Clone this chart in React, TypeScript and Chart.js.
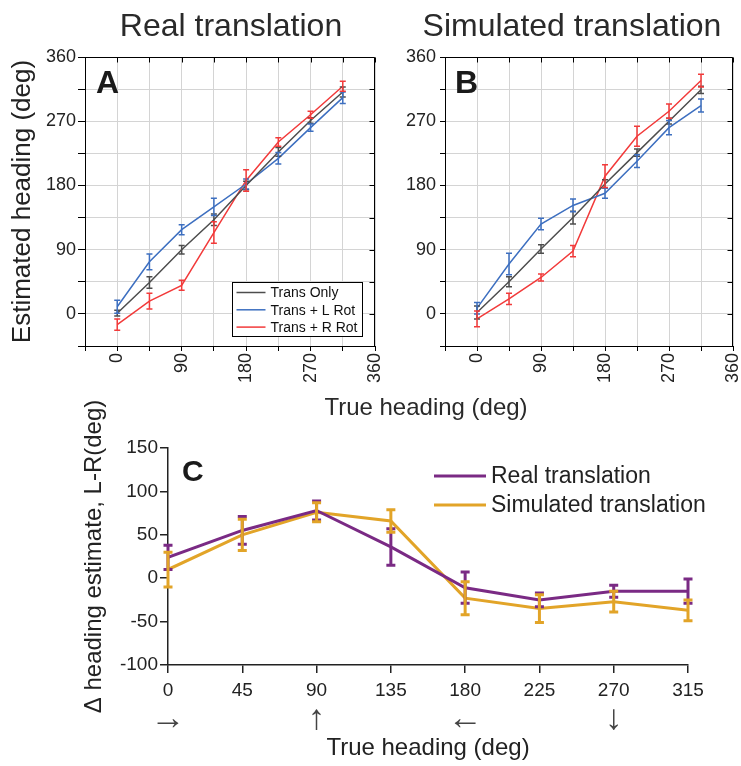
import React, { useEffect, useRef } from 'react';
import { Chart, registerables } from 'chart.js';

Chart.register(...registerables);

const FONT = "'Liberation Sans', Arial, Helvetica, sans-serif";
Chart.defaults.font.family = FONT;
Chart.defaults.color = '#222';

// ---------- data ----------
const headings = [0, 45, 90, 135, 180, 225, 270, 315];

// Panel A: Real translation
const aTransOnly = [1, 44, 90, 132, 180, 227, 271, 311];
const aTransOnlyErr = [4, 8, 6, 8, 6, 6, 4, 7];
const aTransL = [10, 73, 118, 150, 182, 218, 261, 303];
const aTransLErr = [9, 11, 7, 12, 7, 8, 5, 8];
const aTransR = [-15, 18, 40, 114, 187, 241, 279, 319];
const aTransRErr = [8, 11, 7, 15, 15, 6, 5, 7];

// Panel B: Simulated translation
const bTransOnly = [2, 45, 91, 135, 182, 226, 270, 314];
const bTransOnlyErr = [9, 7, 6, 9, 6, 5, 4, 5];
const bTransL = [8, 70, 126, 152, 169, 214, 261, 292];
const bTransLErr = [8, 15, 8, 9, 7, 9, 10, 9];
const bTransR = [-7, 21, 51, 88, 193, 249, 284, 327];
const bTransRErr = [11, 8, 5, 8, 16, 14, 10, 9];

const seriesNamesAB = ['Trans Only', 'Trans + L Rot', 'Trans + R Rot'];
const seriesColorsAB = ['#4d4d4d', '#3d6fc0', '#f23a3a'];
const abTickLabels = ['0', '90', '180', '270', '360'];

// Panel C: L-R difference
const cReal = [24, 55, 78, 36, -11, -25, -15, -15];
const cRealErr = [14, 16, 11, 21, 18, 8, 7, 14];
const cSim = [10, 50, 76, 66, -23, -35, -27, -37];
const cSimErr = [20, 18, 11, 13, 19, 16, 12, 12];
const cSeriesNames = ['Real translation', 'Simulated translation'];
const cColors = ['#7a2a84', '#e2a428'];
const cTickLabels = ['0', '45', '90', '135', '180', '225', '270', '315'];
const cArrows = ['→', '', '↑', '', '←', '', '↓', ''];

// ---------- helpers ----------
const toPoints = (ys: number[]) => headings.map((h, i) => ({ x: h, y: ys[i] }));

const errorBarPlugin = (capHalf: number, width: number) => ({
  id: 'errorBars',
  afterDatasetsDraw(chart: any) {
    const { ctx } = chart;
    const xs = chart.scales.x;
    const ys = chart.scales.y;
    chart.data.datasets.forEach((ds: any) => {
      if (!ds.errors) return;
      ctx.save();
      ctx.strokeStyle = ds.borderColor;
      ctx.lineWidth = width;
      ds.data.forEach((p: any, j: number) => {
        const e = ds.errors[j];
        const px = xs.getPixelForValue(p.x);
        const y1 = ys.getPixelForValue(p.y - e);
        const y2 = ys.getPixelForValue(p.y + e);
        ctx.beginPath();
        ctx.moveTo(px, y1);
        ctx.lineTo(px, y2);
        ctx.moveTo(px - capHalf, y1);
        ctx.lineTo(px + capHalf, y1);
        ctx.moveTo(px - capHalf, y2);
        ctx.lineTo(px + capHalf, y2);
        ctx.stroke();
      });
      ctx.restore();
    });
  },
});

const framePlugin = {
  id: 'frame',
  afterDatasetsDraw(chart: any) {
    const { ctx, chartArea: a, scales } = chart;
    const r = Math.round(a.right) - 0.5;
    const t = Math.round(a.top) + 0.5;
    ctx.save();
    ctx.strokeStyle = '#000';
    ctx.lineWidth = 1;
    ctx.beginPath();
    ctx.moveTo(a.left, t);
    ctx.lineTo(r, t);
    ctx.lineTo(r, a.bottom);
    scales.x.ticks.forEach((tk: any) => {
      const px = Math.round(scales.x.getPixelForValue(tk.value)) + 0.5;
      ctx.moveTo(px, t);
      ctx.lineTo(px, t + 5);
    });
    scales.y.ticks.forEach((tk: any) => {
      const py = Math.round(scales.y.getPixelForValue(tk.value)) + 0.5;
      ctx.moveTo(r, py);
      ctx.lineTo(r - 5, py);
    });
    ctx.stroke();
    ctx.restore();
  },
};

const letterPlugin = (letter: string, size: number, dx: number, dy: number) => ({
  id: 'panelLetter',
  afterDraw(chart: any) {
    const { ctx, chartArea: a } = chart;
    ctx.save();
    ctx.font = `bold ${size}px ${FONT}`;
    ctx.fillStyle = '#1a1a1a';
    ctx.textAlign = 'left';
    ctx.textBaseline = 'alphabetic';
    ctx.fillText(letter, a.left + dx, a.top + dy);
    ctx.restore();
  },
});

const boxLegendPlugin = {
  id: 'boxLegend',
  afterDraw(chart: any) {
    const { ctx, chartArea: a } = chart;
    const bx = Math.round(a.right - 143) + 0.5;
    const by = Math.round(a.bottom - 64) + 0.5;
    const bw = 130;
    const bh = 54;
    ctx.save();
    ctx.fillStyle = '#fff';
    ctx.fillRect(bx, by, bw, bh);
    ctx.strokeStyle = '#000';
    ctx.lineWidth = 1;
    ctx.strokeRect(bx, by, bw, bh);
    ctx.font = `14px ${FONT}`;
    ctx.textBaseline = 'middle';
    ctx.textAlign = 'left';
    chart.data.datasets.forEach((ds: any, i: number) => {
      const y = by + 10 + i * 17.3;
      ctx.strokeStyle = ds.borderColor;
      ctx.lineWidth = 1.5;
      ctx.beginPath();
      ctx.moveTo(bx + 4, y);
      ctx.lineTo(bx + 33, y);
      ctx.stroke();
      ctx.fillStyle = '#111';
      ctx.fillText(ds.label, bx + 38, y + 1);
    });
    ctx.restore();
  },
};

const lineLegendPlugin = {
  id: 'lineLegend',
  afterDraw(chart: any) {
    const { ctx, chartArea: a } = chart;
    ctx.save();
    ctx.font = `23px ${FONT}`;
    ctx.textBaseline = 'middle';
    ctx.textAlign = 'left';
    chart.data.datasets.forEach((ds: any, i: number) => {
      const y = a.top + 28 + i * 29;
      ctx.strokeStyle = ds.borderColor;
      ctx.lineWidth = 3;
      ctx.beginPath();
      ctx.moveTo(a.right - 254, y);
      ctx.lineTo(a.right - 202, y);
      ctx.stroke();
      ctx.fillStyle = '#222';
      ctx.fillText(ds.label, a.right - 197, y + 1);
    });
    ctx.restore();
  },
};

function makeAB(isA: boolean, series: number[][], errs: number[][]) {
  const tickCb = (v: any) => (abTickLabels.includes(String(v)) ? String(v) : '');
  return {
    type: 'line',
    data: {
      datasets: series.map((s, i) => ({
        label: seriesNamesAB[i],
        data: toPoints(s),
        errors: errs[i],
        borderColor: seriesColorsAB[i],
        backgroundColor: seriesColorsAB[i],
        borderWidth: 1.5,
        pointRadius: 0,
        tension: 0,
        fill: false,
      })),
    },
    options: {
      responsive: false,
      animation: false,
      devicePixelRatio: 1,
      layout: { padding: { top: 57, right: isA ? 10 : 8, left: 0, bottom: 0 } },
      plugins: { legend: { display: false }, tooltip: { enabled: false } },
      scales: {
        x: {
          type: 'linear',
          min: -45,
          max: 360,
          ticks: {
            stepSize: 45,
            autoSkip: false,
            minRotation: 90,
            maxRotation: 90,
            padding: 2,
            font: { size: 18 },
            color: '#222',
            callback: tickCb,
          },
          grid: { color: '#d4d4d4', tickColor: '#000', tickLength: 5, lineWidth: 1 },
          border: { color: '#000', width: 1 },
          afterFit: (s: any) => {
            s.height = 54;
            s.paddingLeft = 0;
            s.paddingRight = 0;
          },
        },
        y: {
          type: 'linear',
          min: -45,
          max: 360,
          ticks: {
            stepSize: 45,
            autoSkip: false,
            padding: isA ? 2 : 4,
            font: { size: 18 },
            color: '#222',
            callback: tickCb,
          },
          grid: { color: '#d4d4d4', tickColor: '#000', tickLength: isA ? 7 : 5, lineWidth: 1 },
          border: { color: '#000', width: 1 },
          title: isA
            ? {
                display: true,
                text: 'Estimated heading (deg)',
                font: { size: 26 },
                color: '#222',
                padding: { top: 7, bottom: 0 },
              }
            : { display: false },
          afterFit: (s: any) => {
            s.width = isA ? 85 : 60;
            s.paddingTop = 0;
            s.paddingBottom = 0;
          },
        },
      },
    },
    plugins: [
      errorBarPlugin(3, 1.5),
      framePlugin,
      letterPlugin(isA ? 'A' : 'B', 32, isA ? 11 : 10, 36),
      ...(isA ? [boxLegendPlugin] : []),
    ],
  };
}

function makeC() {
  const data = [cReal, cSim];
  const errs = [cRealErr, cSimErr];
  return {
    type: 'line',
    data: {
      datasets: data.map((s, i) => ({
        label: cSeriesNames[i],
        data: toPoints(s),
        errors: errs[i],
        borderColor: cColors[i],
        backgroundColor: cColors[i],
        borderWidth: 3,
        pointRadius: 0,
        tension: 0,
        fill: false,
      })),
    },
    options: {
      responsive: false,
      animation: false,
      devicePixelRatio: 1,
      layout: { padding: { top: 48, right: 53, left: 0, bottom: 0 } },
      plugins: { legend: { display: false }, tooltip: { enabled: false } },
      scales: {
        x: {
          type: 'linear',
          position: 'bottom',
          weight: 0,
          min: 0,
          max: 315,
          ticks: {
            stepSize: 45,
            autoSkip: false,
            minRotation: 0,
            maxRotation: 0,
            padding: 6,
            font: { size: 19 },
            color: '#222',
            callback: (v: any) => {
              const k = headings.indexOf(Number(v));
              return k >= 0 ? cTickLabels[k] : '';
            },
          },
          grid: { drawOnChartArea: false, tickColor: '#222', tickLength: 8, lineWidth: 1.5 },
          border: { color: '#222', width: 1.5 },
          afterFit: (s: any) => {
            s.height = 37;
            s.paddingLeft = 0;
            s.paddingRight = 0;
          },
        },
        xArrows: {
          type: 'linear',
          position: 'bottom',
          weight: 1,
          min: 0,
          max: 315,
          ticks: {
            stepSize: 45,
            autoSkip: false,
            minRotation: 0,
            maxRotation: 0,
            padding: 0,
            font: { size: 35, lineHeight: 1 },
            color: '#444',
            callback: (v: any) => {
              const k = headings.indexOf(Number(v));
              return k >= 0 ? cArrows[k] : '';
            },
          },
          grid: { display: false, drawTicks: false, drawOnChartArea: false },
          border: { display: false },
          title: {
            display: true,
            text: 'True heading (deg)',
            font: { size: 24 },
            color: '#222',
            padding: { top: 0, bottom: 3 },
          },
          afterFit: (s: any) => {
            s.height = 64;
            s.paddingLeft = 0;
            s.paddingRight = 0;
          },
        },
        y: {
          type: 'linear',
          min: -100,
          max: 150,
          ticks: { stepSize: 50, padding: 2, font: { size: 19 }, color: '#222' },
          grid: { drawOnChartArea: false, tickColor: '#222', tickLength: 8, lineWidth: 1.5 },
          border: { color: '#222', width: 1.5 },
          title: {
            display: true,
            text: 'Δ heading estimate, L-R(deg)',
            font: { size: 24 },
            color: '#222',
            padding: { top: 80, bottom: 0 },
          },
          afterFit: (s: any) => {
            s.width = 168;
            s.paddingTop = 0;
            s.paddingBottom = 0;
          },
        },
      },
    },
    plugins: [errorBarPlugin(4.5, 3), letterPlugin('C', 30, 14, 33), lineLegendPlugin],
  };
}

function ChartCanvas({ make, left, top, width, height }: any) {
  const ref = useRef<HTMLCanvasElement>(null);
  useEffect(() => {
    const chart = new Chart(ref.current as HTMLCanvasElement, make() as any);
    return () => chart.destroy();
  }, []);
  return (
    <canvas
      ref={ref}
      width={width}
      height={height}
      style={{ position: 'absolute', left, top, width, height }}
    />
  );
}

export default function App() {
  return (
    <div
      style={{
        position: 'absolute',
        left: 0,
        top: 0,
        width: 741,
        height: 766,
        background: '#fff',
        overflow: 'hidden',
        fontFamily: FONT,
        color: '#2a2a2a',
      }}
    >
      <ChartCanvas
        make={() => makeAB(true, [aTransOnly, aTransL, aTransR], [aTransOnlyErr, aTransLErr, aTransRErr])}
        left={0}
        top={0}
        width={385}
        height={400}
      />
      <ChartCanvas
        make={() => makeAB(false, [bTransOnly, bTransL, bTransR], [bTransOnlyErr, bTransLErr, bTransRErr])}
        left={385}
        top={0}
        width={356}
        height={400}
      />
      <ChartCanvas make={makeC} left={0} top={400} width={741} height={366} />
      <div style={{ position: 'absolute', left: 31, top: 9, width: 400, textAlign: 'center', fontSize: 32, lineHeight: '32px' }}>
        Real translation
      </div>
      <div style={{ position: 'absolute', left: 404, top: 9, width: 336, textAlign: 'center', fontSize: 32, lineHeight: '32px' }}>
        Simulated translation
      </div>
      <div style={{ position: 'absolute', left: 226, top: 393, width: 400, textAlign: 'center', fontSize: 24, lineHeight: '28px' }}>
        True heading (deg)
      </div>
    </div>
  );
}
